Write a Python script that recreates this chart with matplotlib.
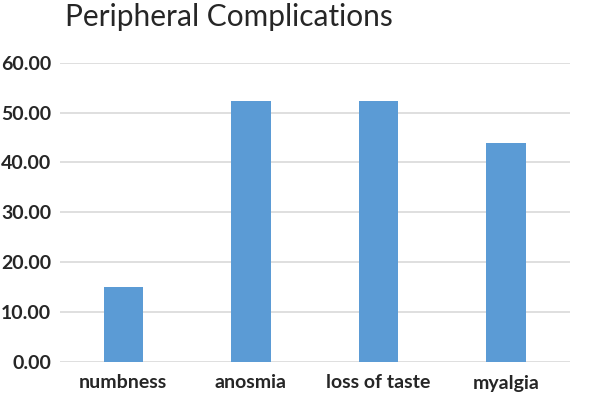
import matplotlib
matplotlib.use("Agg")
import matplotlib.pyplot as plt

categories = ["numbness", "anosmia", "loss of taste", "myalgia"]
values = [15.0, 52.3, 52.3, 44.0]
yticks = [0, 10, 20, 30, 40, 50, 60]

plt.rcParams['font.family'] = ['Lato', 'DejaVu Sans']

fig = plt.figure(figsize=(5.97, 3.95), dpi=100)
W, H = 597, 395
ax = fig.add_axes([59.5 / W, 1 - 362 / H, (570 - 59.5) / W, (362 - 62.7) / H])

x = list(range(len(categories)))
ax.bar(x, values, width=0.31, color="#5B9BD5", zorder=3)
ax.set_xlim(-0.5, len(categories) - 0.5)
ax.set_ylim(0, 60)
ax.set_yticks(yticks)
ax.set_yticklabels([f"{v:.2f}" for v in yticks], fontsize=14, fontweight="bold", color="#262626")
ax.set_xticks(x)
ax.set_xticklabels(categories, fontsize=14, fontweight="bold", color="#262626")
ax.tick_params(axis="both", length=0)
ax.tick_params(axis="y", pad=6)
ax.tick_params(axis="x", pad=9)
ax.grid(axis="y", color="#D9D9D9", linewidth=1.2, zorder=0)
for s in ax.spines.values():
    s.set_visible(False)

fig.text(65 / W, 1 - 26 / H, "Peripheral Complications", fontsize=21.5, color="#262626", ha="left", va="baseline")

fig.savefig("out.png", dpi=100)
